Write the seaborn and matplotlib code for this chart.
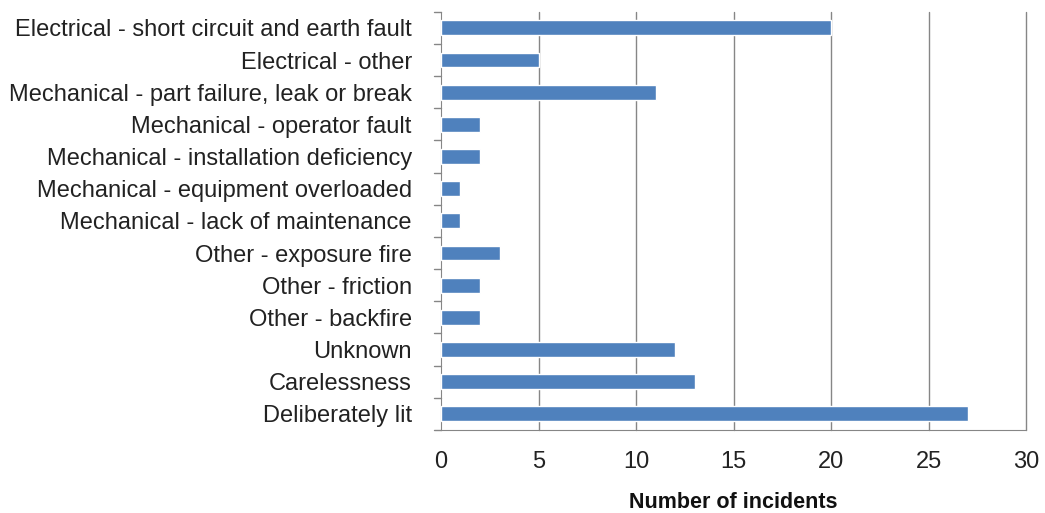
import matplotlib
matplotlib.use("Agg")
import matplotlib.pyplot as plt
import seaborn as sns
import pandas as pd

# Olay nedenleri ve sayıları
causes = [
    "Electrical - short circuit and earth fault",
    "Electrical - other",
    "Mechanical - part failure, leak or break",
    "Mechanical - operator fault",
    "Mechanical - installation deficiency",
    "Mechanical - equipment overloaded",
    "Mechanical - lack of maintenance",
    "Other - exposure fire",
    "Other - friction",
    "Other - backfire",
    "Unknown",
    "Carelessness",
    "Deliberately lit",
]
incidents = [20, 5, 11, 2, 2, 1, 1, 3, 2, 2, 12, 13, 27]
x_ticks = [0, 5, 10, 15, 20, 25, 30]

df = pd.DataFrame({"cause": causes, "incidents": incidents})

sns.set_style("white")
plt.rcParams["font.family"] = ["Liberation Sans", "DejaVu Sans"]

fig = plt.figure(figsize=(10.45, 5.13), dpi=100)
ax = fig.add_axes([0.422, 0.162, 0.56, 0.815])

sns.barplot(data=df, x="incidents", y="cause", color="#4F81BD", saturation=1,
            width=0.46, ax=ax, zorder=3)

ax.set_xlim(0, 30)
ax.set_ylim(len(causes) - 0.5, -0.5)
ax.set_xticks(x_ticks)
ax.tick_params(axis="x", labelsize=17, length=5, color="#868686", pad=10,
               labelcolor="#222222")
ax.tick_params(axis="y", labelsize=17, length=0, pad=21, labelcolor="#222222")

# y ekseninde kategoriler arası küçük çentikler
for b in range(len(causes) + 1):
    ax.plot([-0.012, 0], [b - 0.5, b - 0.5], transform=ax.get_yaxis_transform(),
            color="#868686", lw=1, clip_on=False)

# dikey ızgara çizgileri
for t in x_ticks[1:]:
    ax.axvline(t, color="#868686", lw=1, zorder=0, clip_on=False)
for side in ["top", "right"]:
    ax.spines[side].set_visible(False)
for side in ["left", "bottom"]:
    ax.spines[side].set_color("#868686")

ax.set_ylabel("")
ax.set_xlabel("Number of incidents", fontsize=15.5, fontweight="bold", labelpad=14,
              color="#111111")

fig.savefig("out.png", dpi=100)
